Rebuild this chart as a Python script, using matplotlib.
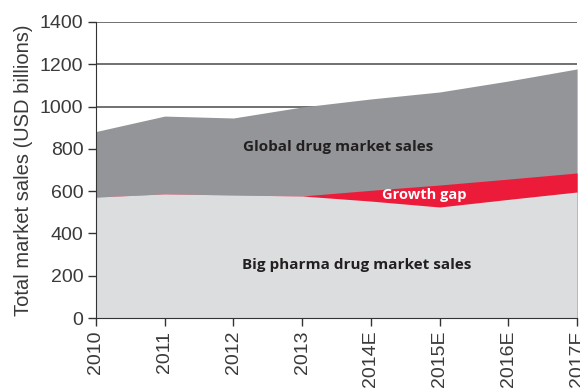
import numpy as np
import matplotlib
matplotlib.use("Agg")
from matplotlib import pyplot as plt

years = ['2010', '2011', '2012', '2013', '2014E', '2015E', '2016E', '2017E']
global_sales = [882, 955, 946, 998, 1036, 1069, 1121, 1178]
pharma_trend = [572, 587, 582, 577, 604, 629, 657, 686]
pharma_sales = [572, 587, 582, 577, 553, 525, 561, 596]
yticks = [0, 200, 400, 600, 800, 1000, 1200, 1400]

dark = '#939598'
light = '#dcdddf'
red = '#ed1b3a'
ink = '#231f20'
axis_ink = '#3a3a3a'

x = np.arange(len(years))

fig = plt.figure(figsize=(5.8, 3.9), dpi=100)
ax = fig.add_axes([0.1655, 0.1846, 0.8295, 0.759])

# gridlines sit behind the filled areas
for t in yticks[1:]:
    ax.axhline(t, color='#58595b', lw=1.2, zorder=0)
ax.fill_between(x, 0, global_sales, color=dark, lw=0, zorder=1)
ax.fill_between(x, 0, pharma_trend, color=red, lw=0, zorder=2)
ax.fill_between(x, 0, pharma_sales, color=light, lw=0, zorder=3)

ax.text(3.52, 810, 'Global drug market sales', ha='center', va='center',
        fontsize=11, fontweight='bold', color=ink, family='Open Sans', zorder=4)
ax.text(4.77, 580, 'Growth gap', ha='center', va='center',
        fontsize=10.5, fontweight='bold', color='white', family='Open Sans', zorder=4)
ax.text(3.8, 250, 'Big pharma drug market sales', ha='center', va='center',
        fontsize=11, fontweight='bold', color=ink, family='Open Sans', zorder=4)

ax.set_xlim(0, 7)
ax.set_ylim(0, 1400)
ax.set_xticks(x)
ax.set_xticklabels(years, rotation=90, fontsize=14, color=axis_ink, family='Liberation Sans')
ax.set_yticks(yticks)
ax.set_yticklabels([str(t) for t in yticks], fontsize=14, color=axis_ink, family='Liberation Sans')
ax.set_ylabel('Total market sales (USD billions)', fontsize=14.5, color=axis_ink,
              family='Liberation Sans', labelpad=5)
ax.tick_params(direction='out', length=6, width=1, color='#333333', pad=3)
for s in ['top', 'right']:
    ax.spines[s].set_visible(False)
for s in ['left', 'bottom']:
    ax.spines[s].set_color('#333333')
    ax.spines[s].set_zorder(5)

fig.savefig('out.png', dpi=100)
